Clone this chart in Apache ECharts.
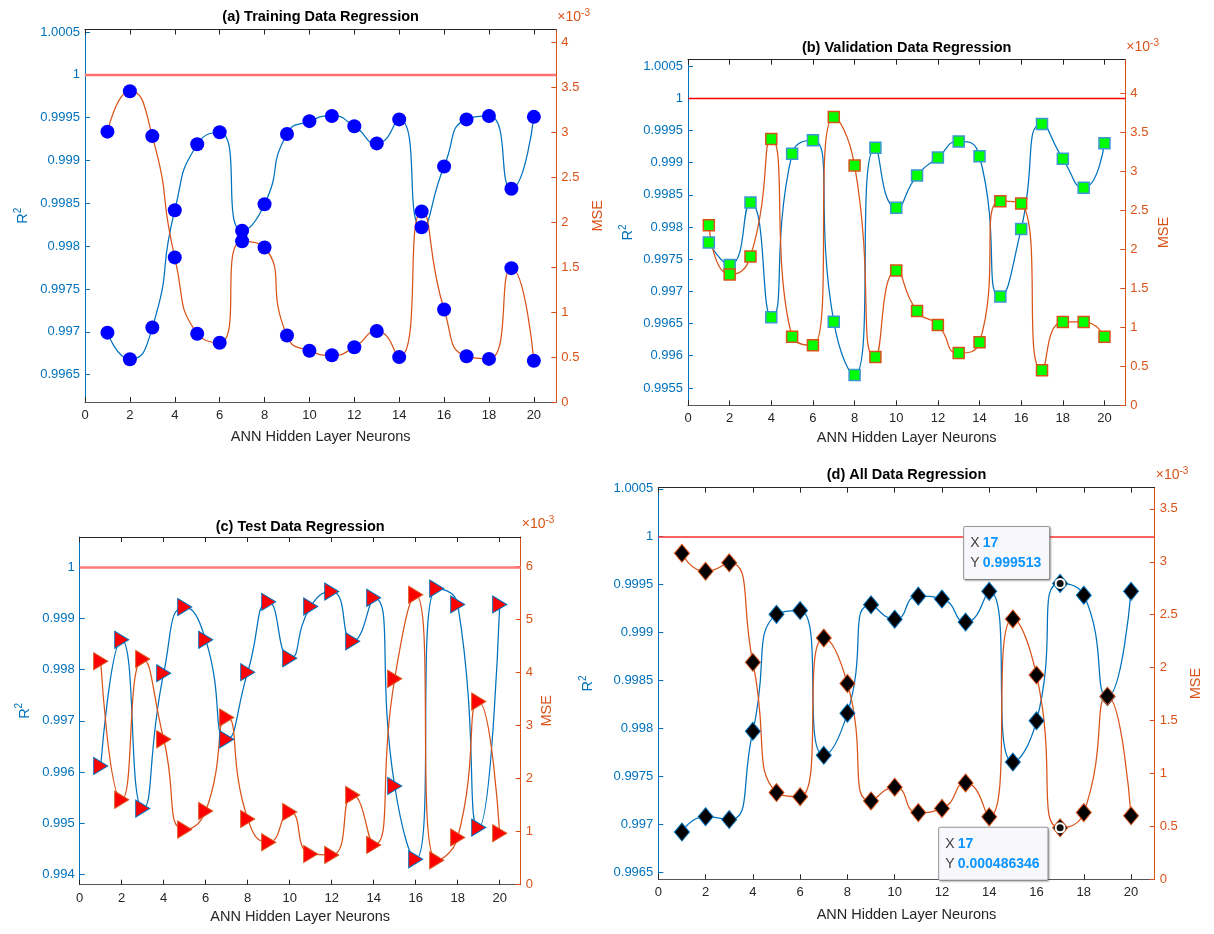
<!DOCTYPE html>
<html>
<head>
<meta charset="utf-8">
<title>ANN Hidden Layer Neurons - Regression</title>
<script src="https://cdn.jsdelivr.net/npm/echarts@6.0.0/dist/echarts.min.js"></script>
<style>
    html, body { margin: 0; padding: 0; background: #fff; }
    #chart { width: 1214px; height: 934px; }
</style>
</head>
<body>
<div id="chart"></div>
<script>
    // hidden layer neurons (x)
    const neurons = [1, 2, 3, 4, 5, 6, 7, 8, 9, 10, 11, 12, 13, 14, 15, 16, 17, 18, 19, 20];
    const xTicks = [0, 2, 4, 6, 8, 10, 12, 14, 16, 18, 20];

    // (a) training data, MSE in units of 1e-3
    const trainR2 = [0.99699, 0.99668, 0.99705, 0.99842, 0.99919, 0.99933, 0.99818, 0.99849, 0.99931, 0.99946,
                     0.99952, 0.99940, 0.99920, 0.99948, 0.99822, 0.99893, 0.99948, 0.99952, 0.99867, 0.99951];
    const trainMSE = [3.01, 3.46, 2.96, 1.61, 0.76, 0.66, 1.79, 1.72, 0.74, 0.57,
                      0.52, 0.61, 0.79, 0.50, 2.12, 1.03, 0.51, 0.48, 1.49, 0.46];

    // (b) validation data
    const valR2 = [0.99776, 0.99741, 0.99838, 0.99660, 0.99914, 0.99935, 0.99653, 0.99570, 0.99923, 0.99830,
                   0.99880, 0.99908, 0.99933, 0.99910, 0.99692, 0.99797, 0.99960, 0.99906, 0.99861, 0.99930];
    const valMSE = [2.31, 1.68, 1.91, 3.42, 0.88, 0.77, 3.70, 3.08, 0.62, 1.73,
                    1.21, 1.03, 0.67, 0.81, 2.62, 2.59, 0.45, 1.07, 1.07, 0.88];

    // (c) test data
    const testR2 = [0.99612, 0.99858, 0.99529, 0.99793, 0.99922, 0.99858, 0.99664, 0.99795, 0.99932, 0.99822,
                    0.99923, 0.99952, 0.99855, 0.99940, 0.99573, 0.99430, 0.99958, 0.99927, 0.99492, 0.99927];
    const testMSE = [4.21, 1.60, 4.25, 2.74, 1.04, 1.39, 3.15, 1.24, 0.80, 1.37,
                     0.58, 0.56, 1.69, 0.75, 3.88, 5.46, 0.46, 0.89, 3.45, 0.97];

    // (d) all data
    const allR2 = [0.99692, 0.99708, 0.99705, 0.99797, 0.99919, 0.99923, 0.99772, 0.99816, 0.99929, 0.99914,
                   0.99938, 0.99935, 0.99911, 0.99943, 0.99765, 0.99808, 0.999513, 0.99939, 0.99833, 0.99943];
    const allMSE = [3.08, 2.91, 2.99, 2.05, 0.82, 0.78, 2.28, 1.85, 0.74, 0.87,
                    0.63, 0.67, 0.91, 0.59, 2.46, 1.93, 0.486346, 0.63, 1.73, 0.60];

    // tick labels
    const trainR2Ticks = [0.9965, 0.997, 0.9975, 0.998, 0.9985, 0.999, 0.9995, 1, 1.0005];
    const trainMSETicks = [0, 0.5, 1, 1.5, 2, 2.5, 3, 3.5, 4];
    const valR2Ticks = [0.9955, 0.996, 0.9965, 0.997, 0.9975, 0.998, 0.9985, 0.999, 0.9995, 1, 1.0005];
    const valMSETicks = [0, 0.5, 1, 1.5, 2, 2.5, 3, 3.5, 4];
    const testR2Ticks = [0.994, 0.995, 0.996, 0.997, 0.998, 0.999, 1];
    const testMSETicks = [0, 1, 2, 3, 4, 5, 6];
    const allR2Ticks = [0.9965, 0.997, 0.9975, 0.998, 0.9985, 0.999, 0.9995, 1, 1.0005];
    const allMSETicks = [0, 0.5, 1, 1.5, 2, 2.5, 3, 3.5];

    // data tips shown in (d)
    const tipNeuron = 17;

    const BLUE = '#0072BD';
    const ORANGE = '#D95319';
    const FONT = '"Liberation Sans", Arial, Helvetica, sans-serif';

    const panels = [
        {
            title: '(a) Training Data Regression', r2: trainR2, mse: trainMSE,
            r2Ticks: trainR2Ticks, mseTicks: trainMSETicks,
            box: {left: 85, top: 29.5, width: 471.3, height: 372.5},
            r2Range: [0.99618, 1.00053], mseRange: [0, 4.147],
            symbol: 'circle', symbolSize: 14, fill: '#0000FF', r2Edge: '#0000FF', mseEdge: '#0000FF', edgeWidth: 0,
            ref: {color: '#ff7070', width: 2.4}, r2Gap: 52, mseGap: 34, xGap: 27, titleDy: 12.8
        },
        {
            title: '(b) Validation Data Regression', r2: valR2, mse: valMSE,
            r2Ticks: valR2Ticks, mseTicks: valMSETicks,
            box: {left: 688, top: 59.7, width: 437.3, height: 345.6},
            r2Range: [0.99523, 1.0006], mseRange: [0, 4.437],
            symbol: 'rect', symbolSize: 11, fill: '#00FF00', r2Edge: '#3d97d3', mseEdge: ORANGE, edgeWidth: 1.5,
            ref: {color: '#ff0000', width: 1.3}, r2Gap: 50, mseGap: 31, xGap: 25, titleDy: 11.5
        },
        {
            title: '(c) Test Data Regression', r2: testR2, mse: testMSE,
            r2Ticks: testR2Ticks, mseTicks: testMSETicks,
            box: {left: 79.7, top: 537, width: 441, height: 347.7},
            r2Range: [0.993805, 1.000585], mseRange: [0, 6.55],
            symbol: 'path://M0,0L10,6L0,12Z', symbolSize: [14, 17], fill: '#FF0000', r2Edge: BLUE, mseEdge: ORANGE, edgeWidth: 1,
            ref: {color: '#ff7a7a', width: 2.6}, r2Gap: 45, mseGap: 19, xGap: 25, titleDy: 10.5
        },
        {
            title: '(d) All Data Regression', r2: allR2, mse: allMSE,
            r2Ticks: allR2Ticks, mseTicks: allMSETicks,
            box: {left: 658.3, top: 487.7, width: 496.4, height: 391.6},
            r2Range: [0.996427, 1.000511], mseRange: [0, 3.70],
            symbol: 'diamond', symbolSize: [15, 18], fill: '#000000', r2Edge: BLUE, mseEdge: ORANGE, edgeWidth: 1,
            ref: {color: '#ff3030', width: 1.6}, r2Gap: 60, mseGap: 34, xGap: 28, titleDy: 12.7
        }
    ];

    const fmt = (v) => String(parseFloat(v.toFixed(6)));
    const pts = (ys) => neurons.map((n, k) => [n, ys[k]]);

    const tipLabel = (yText, pos) => ({
        show: true,
        position: pos,
        formatter: '{k|X} {v|' + tipNeuron + '}\n{k|Y} {v|' + yText + '}',
        backgroundColor: '#f8f8fc',
        borderColor: '#9a9a9a',
        borderWidth: 1,
        borderRadius: 1,
        padding: [6, 8, 6, 6],
        shadowColor: 'rgba(0,0,0,0.25)',
        shadowBlur: 2,
        shadowOffsetX: 1,
        shadowOffsetY: 1,
        lineHeight: 20,
        rich: {
            k: {fontSize: 14, color: '#404040', fontFamily: FONT, lineHeight: 20},
            v: {fontSize: 14, color: '#0a94ff', fontWeight: 'bold', fontFamily: FONT, lineHeight: 20}
        }
    });

    const grid = [], xAxis = [], yAxis = [], series = [], graphic = [];

    panels.forEach((p, i) => {
        const b = p.box;
        grid.push({left: b.left, top: b.top, width: b.width, height: b.height, containLabel: false, outerBoundsMode: 'none'});

        const xi = xAxis.length;
        xAxis.push({
            type: 'value', gridIndex: i, position: 'bottom', min: 0, max: 21,
            name: 'ANN Hidden Layer Neurons', nameLocation: 'middle', nameGap: p.xGap,
            nameTextStyle: {fontSize: 14.5, color: '#262626', fontFamily: FONT},
            axisLine: {show: true, onZero: false, lineStyle: {color: '#555555', width: 1}},
            axisTick: {show: true, inside: true, length: 5, customValues: xTicks, lineStyle: {color: '#262626'}},
            axisLabel: {show: true, customValues: xTicks, fontSize: 13, color: '#262626', margin: 7, fontFamily: FONT},
            splitLine: {show: false}
        });
        xAxis.push({
            type: 'value', gridIndex: i, position: 'top', min: 0, max: 21,
            axisLine: {show: true, onZero: false, lineStyle: {color: '#262626', width: 1}},
            axisTick: {show: true, inside: true, length: 5, customValues: xTicks, lineStyle: {color: '#262626'}},
            axisLabel: {show: false},
            splitLine: {show: false}
        });

        const yi = yAxis.length;
        yAxis.push({
            type: 'value', gridIndex: i, position: 'left', min: p.r2Range[0], max: p.r2Range[1],
            name: 'R{s|2}', nameLocation: 'middle', nameGap: p.r2Gap, nameRotate: 90,
            nameTextStyle: {
                fontSize: 14.5, color: BLUE, fontFamily: FONT, lineHeight: 20,
                rich: {s: {fontSize: 10, color: BLUE, fontFamily: FONT, lineHeight: 10, verticalAlign: 'top'}}
            },
            axisLine: {show: true, onZero: false, lineStyle: {color: BLUE, width: 1}},
            axisTick: {show: true, inside: true, length: 5, customValues: p.r2Ticks, lineStyle: {color: BLUE}},
            axisLabel: {show: true, customValues: p.r2Ticks, formatter: fmt, fontSize: 13, color: BLUE, margin: 5, fontFamily: FONT},
            splitLine: {show: false}
        });
        yAxis.push({
            type: 'value', gridIndex: i, position: 'right', min: p.mseRange[0], max: p.mseRange[1],
            name: 'MSE', nameLocation: 'middle', nameGap: p.mseGap, nameRotate: 90,
            nameTextStyle: {fontSize: 14.5, color: ORANGE, fontFamily: FONT},
            axisLine: {show: true, onZero: false, lineStyle: {color: ORANGE, width: 1}},
            axisTick: {show: true, inside: true, length: 5, customValues: p.mseTicks, lineStyle: {color: ORANGE}},
            axisLabel: {show: true, customValues: p.mseTicks, formatter: fmt, fontSize: 13, color: ORANGE, margin: 5, fontFamily: FONT},
            splitLine: {show: false}
        });

        series.push({
            type: 'line', xAxisIndex: xi, yAxisIndex: yi, data: pts(p.r2), smooth: 0.6,
            showSymbol: false, silent: true, z: 2,
            lineStyle: {color: BLUE, width: 1.25},
            markLine: {
                silent: true, symbol: 'none', animation: false, label: {show: false},
                lineStyle: {color: p.ref.color, width: p.ref.width, type: 'solid', opacity: 1},
                data: [{yAxis: 1}]
            }
        });
        series.push({
            type: 'line', xAxisIndex: xi, yAxisIndex: yi + 1, data: pts(p.mse), smooth: 0.6,
            showSymbol: false, silent: true, z: 2,
            lineStyle: {color: ORANGE, width: 1.25}
        });

        const r2Marks = {
            type: 'scatter', xAxisIndex: xi, yAxisIndex: yi, data: pts(p.r2), z: 3, silent: true,
            symbol: p.symbol, symbolSize: p.symbolSize,
            itemStyle: {color: p.fill, borderColor: p.r2Edge, borderWidth: p.edgeWidth, opacity: 1}
        };
        const mseMarks = {
            type: 'scatter', xAxisIndex: xi, yAxisIndex: yi + 1, data: pts(p.mse), z: 3, silent: true,
            symbol: p.symbol, symbolSize: p.symbolSize,
            itemStyle: {color: p.fill, borderColor: p.mseEdge, borderWidth: p.edgeWidth, opacity: 1}
        };

        if (i === 3) {
            const k = neurons.indexOf(tipNeuron);
            r2Marks.markPoint = {
                silent: true, animation: false, symbol: 'circle', symbolSize: 9,
                itemStyle: {color: '#111111', borderColor: '#ffffff', borderWidth: 2, opacity: 1},
                data: [{coord: [tipNeuron, allR2[k]], label: tipLabel(fmt(allR2[k]), [-90.5, -51])}]
            };
            mseMarks.markPoint = {
                silent: true, animation: false, symbol: 'circle', symbolSize: 9,
                itemStyle: {color: '#111111', borderColor: '#ffffff', borderWidth: 2, opacity: 1},
                data: [{coord: [tipNeuron, allMSE[k]], label: tipLabel((allMSE[k] / 1000).toPrecision(6), [-115.5, 5.5])}]
            };
        }
        series.push(r2Marks, mseMarks);

        graphic.push({
            type: 'text', silent: true, x: b.left + b.width / 2, y: b.top - p.titleDy,
            style: {text: p.title, fontSize: 14.5, fontWeight: 'bold', fontFamily: FONT, fill: '#000000', align: 'center', verticalAlign: 'middle'}
        });
        graphic.push({
            type: 'text', silent: true, x: b.left + b.width + 1, y: b.top - 3.5,
            style: {
                text: '×10{e|-3}', fontSize: 14, fontFamily: FONT, fill: ORANGE, lineHeight: 18,
                align: 'left', verticalAlign: 'bottom',
                rich: {e: {fontSize: 10, fontFamily: FONT, fill: ORANGE, lineHeight: 9, verticalAlign: 'top'}}
            }
        });
    });

    const chart = echarts.init(document.getElementById('chart'), null, {renderer: 'canvas'});
    chart.setOption({
        animation: false,
        backgroundColor: '#ffffff',
        textStyle: {fontFamily: FONT},
        grid: grid,
        xAxis: xAxis,
        yAxis: yAxis,
        series: series,
        graphic: graphic
    });
    window.addEventListener('resize', () => {
        chart.resize();
    });
</script>
</body>
</html>
